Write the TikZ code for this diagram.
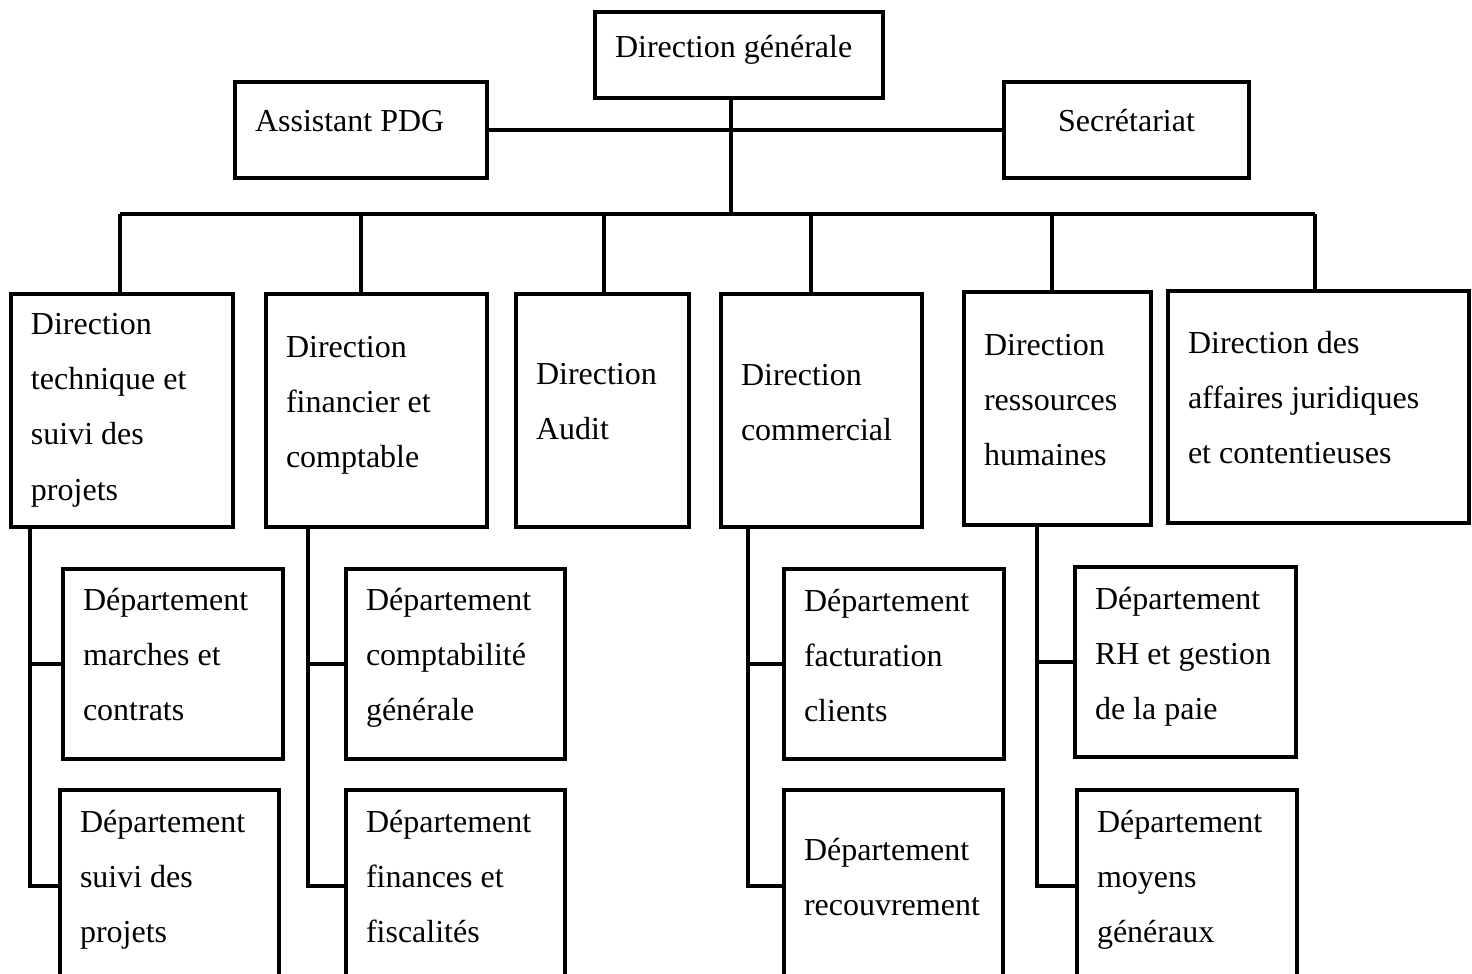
\documentclass[tikz,border=0pt]{standalone}
\usepackage{fontspec}
\setmainfont{Liberation Serif}
\hyphenpenalty=10000
\exhyphenpenalty=10000
\begin{document}
\begin{tikzpicture}[x=0.5pt,y=-0.5pt,line width=2pt,
	orgbox/.style n args={3}{draw, anchor=north west, align=flush left, inner xsep=10pt, inner ysep=0pt,
		text width=#1, text height=#2, text depth=#3,
		font=\fontsize{16}{27.7}\selectfont}]
	\useasboundingbox (0,0) rectangle (1472,974);
	% Direction generale and staff
	\node[orgbox={124pt}{23pt}{20pt}] (dg) at (593,10) {Direction générale};
	\node[orgbox={106pt}{25pt}{23pt}] (apdg) at (233,80) {Assistant PDG};
	\node[orgbox={102.5pt}{25pt}{23pt}, align=flush center] (sec) at (1002,80) {Secrétariat};
	\coordinate (hub) at (731,214);
	\draw (dg.south -| hub) -- (hub);
	\draw (apdg.east) -- (sec.west);
	% Directions
	\node[orgbox={91pt}{20pt}{96.5pt}] (d1) at (9,292) {Direction\\technique et\\suivi des\\projets};
	\node[orgbox={90.5pt}{31.5pt}{85pt}] (d2) at (264,292) {Direction\\financier et\\comptable};
	\node[orgbox={66.5pt}{45pt}{71.5pt}] (d3) at (514,292) {Direction\\Audit};
	\node[orgbox={80.5pt}{45.5pt}{71pt}] (d4) at (719,292) {Direction\\commercial};
	\node[orgbox={73.5pt}{31.5pt}{85pt}] (d5) at (962,290) {Direction\\ressources\\humaines};
	\node[orgbox={130.5pt}{31pt}{85pt}] (d6) at (1166,289) {Direction des\\affaires juridiques\\et contentieuses};
	% Bus and drops
	\coordinate (b1) at (120,214);
	\coordinate (b2) at (361,214);
	\coordinate (b3) at (604,214);
	\coordinate (b4) at (811,214);
	\coordinate (b5) at (1052,214);
	\coordinate (b6) at (1315,214);
	\draw (b1) -- (b6);
	\draw (b1) -- (b1 |- d1.north);
	\draw (b2) -- (b2 |- d2.north);
	\draw (b3) -- (b3 |- d3.north);
	\draw (b4) -- (b4 |- d4.north);
	\draw (b5) -- (b5 |- d5.north);
	\draw (b6) -- (b6 |- d6.north);
	% Departements
	\node[orgbox={90pt}{20.5pt}{74.5pt}] (s11) at (61,567) {Département\\marches et\\contrats};
	\node[orgbox={89.5pt}{21pt}{75pt}] (s12) at (58,788) {Département\\suivi des\\projets};
	\node[orgbox={89.5pt}{20.5pt}{74.5pt}] (s21) at (344,567) {Département\\comptabilité\\générale};
	\node[orgbox={89.5pt}{21pt}{75pt}] (s22) at (344,788) {Département\\finances et\\fiscalités};
	\node[orgbox={90pt}{21pt}{74pt}] (s41) at (782,567) {Département\\facturation\\clients};
	\node[orgbox={89.5pt}{35pt}{61pt}] (s42) at (782,788) {Département\\recouvrement};
	\node[orgbox={90.5pt}{21pt}{74pt}] (s51) at (1073,565) {Département\\RH et gestion\\de la paie};
	\node[orgbox={90pt}{21pt}{75pt}] (s52) at (1075,788) {Département\\moyens\\généraux};
	% Links to departements
	\coordinate (t1) at (30,525);
	\coordinate (t2) at (308,525);
	\coordinate (t4) at (748,525);
	\coordinate (t5) at (1037,523);
	\draw (t1) |- (s12.west);
	\draw (t1 |- s11.west) -- (s11.west);
	\draw (t2) |- (s22.west);
	\draw (t2 |- s21.west) -- (s21.west);
	\draw (t4) |- (s42.west);
	\draw (t4 |- s41.west) -- (s41.west);
	\draw (t5) |- (s52.west);
	\draw (t5 |- s51.west) -- (s51.west);
\end{tikzpicture}
\end{document}
